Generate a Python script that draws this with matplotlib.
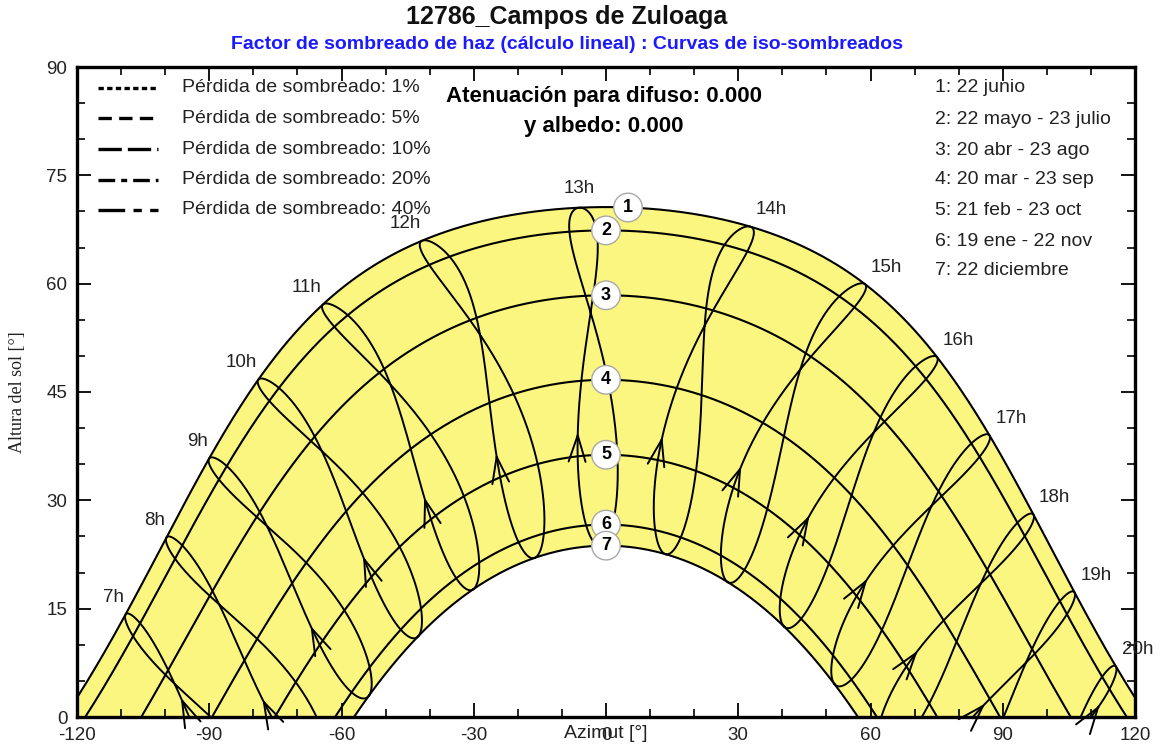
import numpy as np
import matplotlib.pyplot as plt
from matplotlib.lines import Line2D

plt.rcParams['font.family'] = ['Liberation Sans', 'DejaVu Sans']
plt.rcParams['axes.unicode_minus'] = False

# site (noon heights 70.5 / 23.6 deg, 13h near south)
latitude = 42.85
longitude = -1.8
timezone = 1.0

# date curves 1..7 (day of year) and their legend
date_days = [173, 142, 110, 79, 52, 19, 356]
date_labels = ['1: 22 junio', '2: 22 mayo - 23 julio', '3: 20 abr - 23 ago',
               '4: 20 mar - 23 sep', '5: 21 feb - 23 oct', '6: 19 ene - 22 nov',
               '7: 22 diciembre']
date_marks = ['1', '2', '3', '4', '5', '6', '7']
mark_azimuth = [5, 0, 0, 0, 0, 0, 0]

# legal-time hour lines
hours = [7, 8, 9, 10, 11, 12, 13, 14, 15, 16, 17, 18, 19, 20]
hour_labels = ['7h', '8h', '9h', '10h', '11h', '12h', '13h', '14h', '15h',
               '16h', '17h', '18h', '19h', '20h']
arrow_day = 61

loss_labels = ['Pérdida de sombreado: 1%', 'Pérdida de sombreado: 5%',
               'Pérdida de sombreado: 10%', 'Pérdida de sombreado: 20%',
               'Pérdida de sombreado: 40%']
loss_styles = [(0, (1.6, 1.0)), (0, (4, 2.2)), (0, (7, 1.8)),
               (0, (5, 1.8, 1.8, 1.8)), (0, (8, 2.5, 2.5, 2.5))]

diffuse = 0.000
albedo = 0.000


def declination(day):
    b = 2 * np.pi * (np.asarray(day) - 1) / 365.0
    return np.degrees(0.006918 - 0.399912 * np.cos(b) + 0.070257 * np.sin(b)
                      - 0.006758 * np.cos(2 * b) + 0.000907 * np.sin(2 * b)
                      - 0.002697 * np.cos(3 * b) + 0.00148 * np.sin(3 * b))


def eq_time(day):
    b = 2 * np.pi * (np.asarray(day) - 1) / 365.0
    return 229.18 * (0.000075 + 0.001868 * np.cos(b) - 0.032077 * np.sin(b)
                     - 0.014615 * np.cos(2 * b) - 0.040849 * np.sin(2 * b))


def sun_pos(decl, hangle):
    p, d, h = np.radians(latitude), np.radians(decl), np.radians(hangle)
    salt = np.sin(p) * np.sin(d) + np.cos(p) * np.cos(d) * np.cos(h)
    alt = np.degrees(np.arcsin(np.clip(salt, -1, 1)))
    az = np.degrees(np.arctan2(np.sin(h), np.cos(h) * np.sin(p) - np.tan(d) * np.cos(p)))
    return az, alt


def day_curve(day):
    d = declination(day)
    h0 = np.degrees(np.arccos(np.clip(-np.tan(np.radians(latitude)) * np.tan(np.radians(d)), -1, 1)))
    return sun_pos(d, np.linspace(-h0, h0, 721))


def hour_curve(hour):
    days = np.r_[np.arange(356, 366), np.arange(1, 357)]
    solar = hour - timezone + longitude / 15.0 + eq_time(days) / 60.0
    az, alt = sun_pos(declination(days), 15.0 * (solar - 12.0))
    return days, az, alt


fig = plt.figure(figsize=(11.61, 7.49), dpi=100)
ax = fig.add_axes([77 / 1161, 32 / 749, 1058 / 1161, 650 / 749])

# yellow band between 22 june and 22 december
az1, alt1 = day_curve(date_days[0])
az7, alt7 = day_curve(date_days[-1])
ax.fill(np.r_[az1, az7[::-1]], np.r_[alt1, alt7[::-1]], color='#fbf680', lw=0, zorder=1)

for day in date_days:
    az, alt = day_curve(day)
    ax.plot(az, alt, color='black', lw=1.5, zorder=2)

for hour in hours:
    days, az, alt = hour_curve(hour)
    vis = alt >= 0
    ax.plot(np.where(vis, az, np.nan), np.where(vis, alt, np.nan), color='black', lw=1.4, zorder=2)
    # direction arrow on the rising branch
    first = np.argmax(vis)
    i = max(int(np.where(days == arrow_day)[0][0]), first + 8)
    ax.annotate('', xy=(az[i], alt[i]), xytext=(az[i - 2], alt[i - 2]),
                arrowprops=dict(arrowstyle='->,head_length=1.0,head_width=0.32',
                                mutation_scale=19, lw=1.4, color='black',
                                shrinkA=0, shrinkB=0),
                annotation_clip=False, zorder=3)

# hour labels at the 22 june end of each line
for hour, lab in zip(hours, hour_labels):
    days, az, alt = hour_curve(hour)
    j = int(np.where(days == date_days[0])[0][0])
    if hour < 13:
        ha, off = 'right', (-1, 6)
    elif hour == 13:
        ha, off = 'center', (0, 8)
    else:
        ha, off = 'left', (4, 6)
    ax.annotate(lab, (az[j], alt[j]), xytext=off, textcoords='offset points',
                ha=ha, va='bottom', fontsize=13.5, color='#222222', zorder=5)

# numbered circles on the date curves
for day, m, azm in zip(date_days, date_marks, mark_azimuth):
    az, alt = day_curve(day)
    ax.text(azm, np.interp(azm, az, alt), m, ha='center', va='center', fontsize=13,
            weight='bold', zorder=6,
            bbox=dict(boxstyle='circle,pad=0.32', fc='white', ec='#a8a8a8', lw=1))

# shading-loss legend (top left)
rows = [0.9677, 0.9215, 0.8738, 0.8262, 0.780]
for y, lab, ls in zip(rows, loss_labels, loss_styles):
    ax.add_line(Line2D([0.02, 0.077], [y, y], transform=ax.transAxes, color='black',
                       lw=2.4, linestyle=ls, zorder=5))
    ax.text(0.099, y, lab, transform=ax.transAxes, ha='left', va='center',
            fontsize=14, color='#222222', zorder=5)

# dates legend (top right)
rows2 = [0.9677, 0.9200, 0.8723, 0.8262, 0.7785, 0.7323, 0.6862]
for y, lab in zip(rows2, date_labels):
    ax.text(0.811, y, lab, transform=ax.transAxes, ha='left', va='center',
            fontsize=14, color='#222222', zorder=5)

ax.text(0.498, 0.955, 'Atenuación para difuso: %.3f' % diffuse, transform=ax.transAxes,
        ha='center', va='center', fontsize=16, weight='bold', zorder=5)
ax.text(0.498, 0.909, 'y albedo: %.3f' % albedo, transform=ax.transAxes,
        ha='center', va='center', fontsize=16, weight='bold', zorder=5)

ax.set_xlim(-120, 120)
ax.set_ylim(0, 90)
ax.set_xticks(np.arange(-120, 121, 30))
ax.set_xticks(np.arange(-120, 121, 10), minor=True)
ax.set_yticks(np.arange(0, 91, 15))
ax.set_yticks(np.arange(0, 91, 5), minor=True)
ax.tick_params(which='both', direction='in', top=True, right=True, labelsize=13.5,
               colors='black', labelcolor='#222222')
ax.tick_params(which='major', length=10, width=1.3, pad=7)
ax.tick_params(which='minor', length=6, width=1.2)
for s in ax.spines.values():
    s.set_linewidth(2.4)

ax.set_xlabel('Azimut [°]', fontsize=14, color='#222222')
ax.xaxis.set_label_coords(0.5, -0.012)
ax.set_ylabel('Altura del sol [°]', fontsize=13, family='Liberation Serif', color='#222222')
ax.yaxis.set_label_coords(-0.048, 0.5)

fig.text(0.488, 0.977, '12786_Campos de Zuloaga', ha='center', va='center',
         fontsize=18, weight='bold', color='#111111')
fig.text(0.488, 0.940, 'Factor de sombreado de haz (cálculo lineal) : Curvas de iso-sombreados',
         ha='center', va='center', fontsize=14, weight='bold', color='#1a1aff')

fig.savefig('out.png', dpi=100)
